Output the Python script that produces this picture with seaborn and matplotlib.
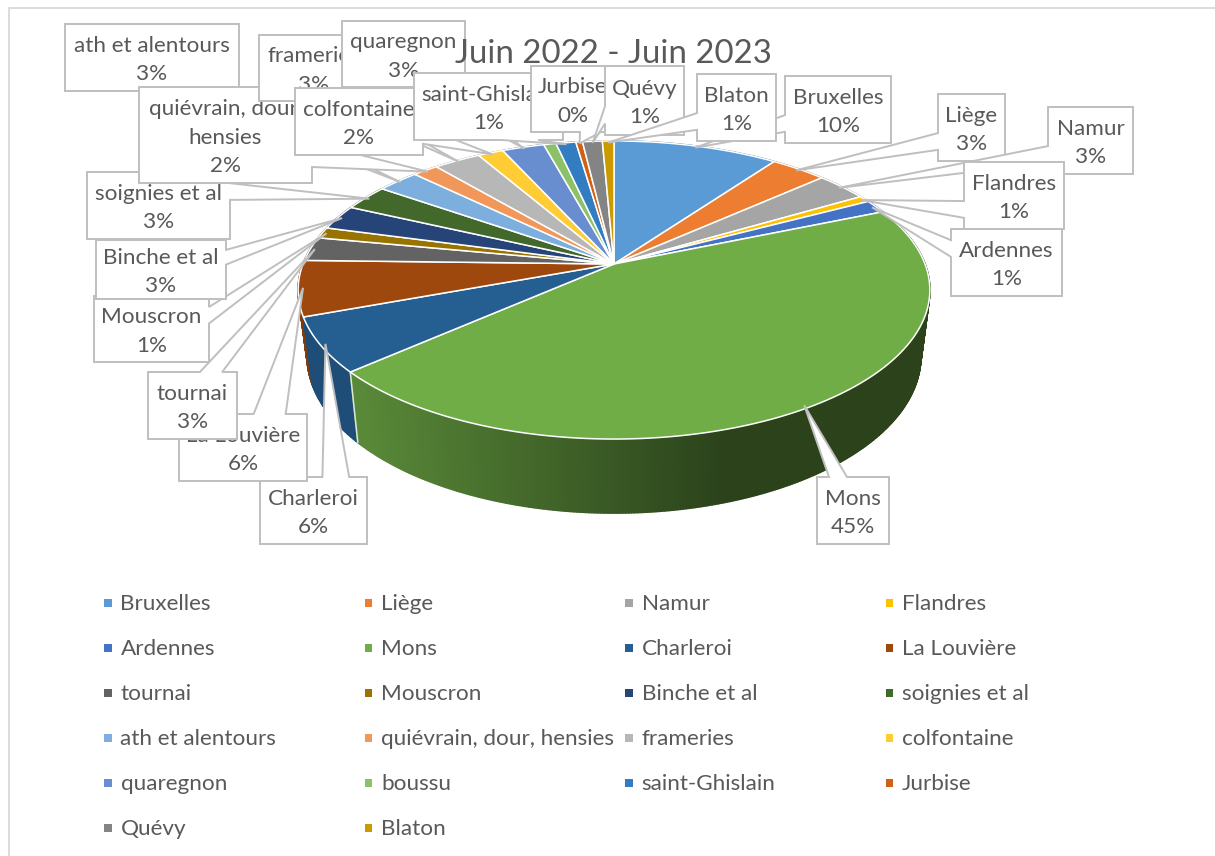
import matplotlib
matplotlib.use("Agg")
import matplotlib.pyplot as plt
import numpy as np
import pandas as pd
import seaborn as sns
from matplotlib.collections import PolyCollection
from matplotlib.colors import to_rgb
from matplotlib.patches import Polygon

TITLE = "Juin 2022 - Juin 2023"

categories = [
    "Bruxelles", "Liège", "Namur", "Flandres", "Ardennes", "Mons",
    "Charleroi", "La Louvière", "tournai", "Mouscron", "Binche et al",
    "soignies et al", "ath et alentours", "quiévrain, dour, hensies",
    "frameries", "colfontaine", "quaregnon", "boussu", "saint-Ghislain",
    "Jurbise", "Quévy", "Blaton",
]
values = [
    10.0, 3.4, 3.15, 0.7, 1.45, 44.8,
    5.9, 6.0, 2.6, 1.2, 2.7,
    2.8, 2.55, 1.55,
    2.85, 1.55, 2.55, 0.75, 1.2,
    0.4, 1.2, 0.7,
]
colors = [
    "#5B9BD5", "#ED7D31", "#A5A5A5", "#FFC000", "#4472C4", "#70AD47",
    "#255E91", "#9E480E", "#636363", "#997300", "#264478",
    "#43682B", "#7CAFDD", "#F1975A", "#B7B7B7", "#FFCD33", "#698ED0",
    "#8CC168", "#327DC2", "#D26012", "#848484", "#CA9A00",
]

# Callout text wrapping and box extents in pixels (left, top, right, bottom).
wrapped = {"quiévrain, dour, hensies": "quiévrain, dour,\nhensies"}
boxes = {
    "Bruxelles": (785, 76, 891, 143),
    "Liège": (938, 94, 1005, 161),
    "Namur": (1048, 107, 1133, 174),
    "Flandres": (964, 162, 1064, 229),
    "Ardennes": (951, 229, 1062, 296),
    "Mons": (817, 477, 889, 544),
    "Charleroi": (260, 477, 367, 544),
    "La Louvière": (179, 414, 307, 481),
    "tournai": (148, 372, 237, 439),
    "Mouscron": (94, 296, 209, 362),
    "Binche et al": (96, 240, 226, 299),
    "soignies et al": (87, 172, 230, 239),
    "ath et alentours": (65, 24, 239, 91),
    "quiévrain, dour, hensies": (139, 87, 312, 183),
    "frameries": (259, 35, 369, 101),
    "colfontaine": (295, 88, 423, 155),
    "quaregnon": (342, 21, 465, 87),
    "saint-Ghislain": (414, 73, 563, 140),
    "Jurbise": (531, 66, 615, 132),
    "Quévy": (605, 66, 684, 135),
    "Blaton": (697, 74, 776, 141),
}

W, H = 1215, 856
TEXT = "#595959"
BORDER = "#BFBFBF"
FONT = "Lato"

# Perspective disc: a unit circle seen from above, apex off the ellipse centre.
APEX = (614.0, 264.0)
KX, KY, PERSP = 311.0, 144.5, 0.1745
TOP_C = (614.0, 290.0)
BOT_C = (614.0, 356.0)
X_SHRINK, Y_STRETCH = 307.0 / 316.0, 157.0 / 149.0

sns.set_theme(style="white")
plt.rcParams["font.family"] = [FONT, "DejaVu Sans"]

fig = plt.figure(figsize=(W / 100, H / 100), dpi=100, facecolor="white")
ax = fig.add_axes([0, 0, 1, 1])
ax.set_xlim(0, W)
ax.set_ylim(H, 0)
ax.axis("off")


def rim(theta, r=1.0):
    """Project pie angles (radians clockwise from 12 o'clock) to pixels."""
    u, v = r * np.sin(theta), r * np.cos(theta)
    den = 1 + PERSP * v
    return APEX[0] + KX * u / den, APEX[1] - KY * v / den


def lower(x, y):
    """Map a point on the top rim to the matching point on the bottom rim."""
    return BOT_C[0] + (x - TOP_C[0]) * X_SHRINK, BOT_C[1] + (y - TOP_C[1]) * Y_STRETCH


def wall_colour(i, x):
    """Side shade of a slice; the large green wall darkens from left to right."""
    base = np.array(to_rgb(colors[i]))
    if categories[i] == "Mons":
        t = np.clip((x - 350) / 380, 0, 1)
        return tuple(base * (0.80 - 0.42 * t))
    return tuple(base * 0.82)


total = float(np.sum(values))
edges = np.concatenate([[0.0], np.cumsum(values)]) / total * 2 * np.pi
mids = (edges[:-1] + edges[1:]) / 2

# Chart frame along the top and left edges.
ax.plot([W, 9, 9], [8, 8, H], color="#D9D9D9", lw=1.3, zorder=0, solid_joinstyle="miter")

# Side walls, far slices first so nearer ones cover them.
order = np.argsort(-np.cos(mids))
for i in order:
    th = np.linspace(edges[i], edges[i + 1], max(4, int((edges[i + 1] - edges[i]) * 120)))
    x, y = rim(th)
    xb, yb = lower(x, y)
    quads = [
        [(x[k], y[k]), (x[k + 1], y[k + 1]), (xb[k + 1], yb[k + 1]), (xb[k], yb[k])]
        for k in range(len(th) - 1)
    ]
    shades = [wall_colour(i, x[k]) for k in range(len(th) - 1)]
    ax.add_collection(PolyCollection(quads, facecolors=shades, edgecolors=shades,
                                     linewidths=1.2, zorder=1))

# Light seam where the Charleroi and Mons walls meet.
seam = edges[categories.index("Mons") + 1]
sx, sy = rim(seam)
bx, by = lower(sx, sy)
ax.plot([sx, bx], [sy, by], color="#DDE6D8", lw=1.1, zorder=1.5)

# Top face of every slice.
for i in range(len(values)):
    th = np.linspace(edges[i], edges[i + 1], max(4, int((edges[i + 1] - edges[i]) * 120)))
    x, y = rim(th)
    pts = np.column_stack([np.r_[APEX[0], x], np.r_[APEX[1], y]])
    ax.add_patch(Polygon(pts, closed=True, facecolor=colors[i], edgecolor="white",
                         lw=1.1, zorder=2, joinstyle="round"))


def callout(box, tip):
    """Outline of a rectangular callout whose pointer reaches the tip."""
    l, t, r, b = box
    w, h = r - l, b - t
    dx, dy = tip[0] - (l + r) / 2, tip[1] - (t + b) / 2
    pts = [(l, t)]
    if abs(dy) * w > abs(dx) * h:
        a, c = (2, 5) if dx < 0 else (7, 10)
        xa, xc = l + w * a / 12, l + w * c / 12
        if dy < 0:
            pts += [(xa, t), tip, (xc, t), (r, t), (r, b), (l, b)]
        else:
            pts += [(r, t), (r, b), (xc, b), tip, (xa, b), (l, b)]
    else:
        a, c = (2, 5) if dy < 0 else (7, 10)
        ya, yc = t + h * a / 12, t + h * c / 12
        if dx > 0:
            pts += [(r, t), (r, ya), tip, (r, yc), (r, b), (l, b)]
        else:
            pts += [(r, t), (r, b), (l, b), (l, yc), tip, (l, ya)]
    return pts


# Data labels, later slices stacked over earlier ones.
for i, name in enumerate(categories):
    if name not in boxes:
        continue
    box = boxes[name]
    z = 3 + i * 0.1
    tip = tuple(float(c) for c in rim(mids[i], 0.985))
    ax.add_patch(Polygon(callout(box, tip), closed=True, facecolor="white",
                         edgecolor=BORDER, lw=1.4, zorder=z, joinstyle="miter"))
    pct = int(round(values[i] / total * 100))
    ax.text((box[0] + box[2]) / 2, (box[1] + box[3]) / 2 + 2.5,
            f"{wrapped.get(name, name)}\n{pct}%",
            ha="center", va="center", fontsize=16.2, color=TEXT, linespacing=1.55,
            zorder=z + 0.01, clip_on=True)

ax.text(613, 54, TITLE, ha="center", va="center", fontsize=23.8, color=TEXT, zorder=6)

# Legend laid out row by row in four columns.
legend_df = pd.DataFrame({
    "name": categories,
    "x": [108 + (i % 4) * 260.5 for i in range(len(categories))],
    "y": [603 + (i // 4) * 45 for i in range(len(categories))],
})
sns.scatterplot(data=legend_df, x="x", y="y", hue="name", palette=colors, marker="s",
                s=28, linewidth=0, legend=False, ax=ax, zorder=3)
for row in legend_df.itertuples():
    ax.text(row.x + 12.5, row.y + 1, row.name, ha="left", va="center", fontsize=16.2, color=TEXT)
ax.set_xlim(0, W)
ax.set_ylim(H, 0)
ax.axis("off")

fig.savefig("out.png", dpi=100, facecolor="white")
